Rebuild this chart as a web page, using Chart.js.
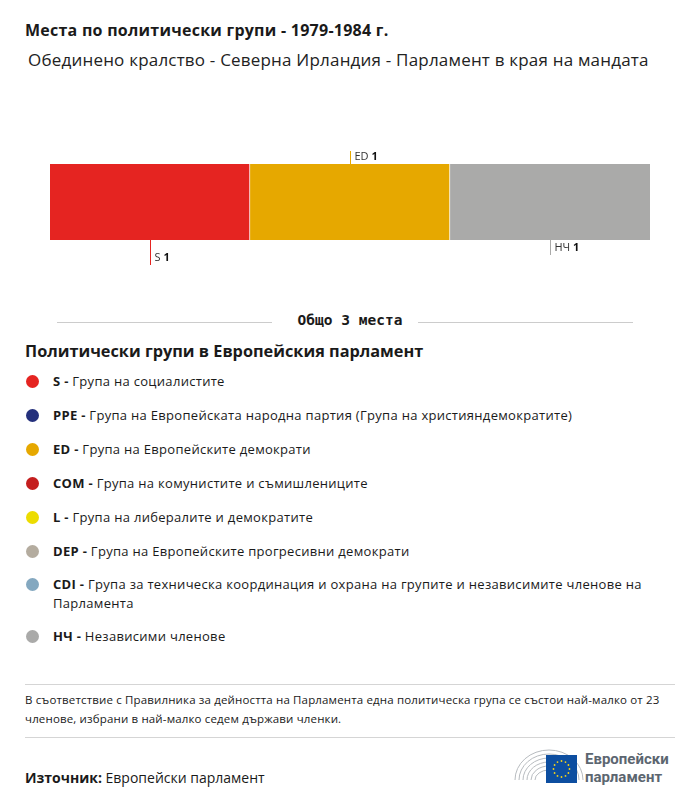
<!DOCTYPE html>
<html lang="bg">
<head>
<meta charset="utf-8">
<script src="https://cdn.jsdelivr.net/npm/chart.js@4.4.1/dist/chart.umd.min.js"></script>
<style>
  html, body { margin: 0; padding: 0; background: #fff; }
  body { width: 700px; height: 804px; position: relative; font-family: 'Open Sans', Roboto, sans-serif; color: #1a1a1a; overflow: hidden; }
  .abs { position: absolute; white-space: nowrap; }
  #title { left: 25px; top: 19px; font-size: 16px; font-weight: 700; letter-spacing: 0.25px; }
  #subtitle { left: 28px; top: 48px; font-size: 17px; font-weight: 400; color: #222; letter-spacing: 0.2px; }
  #chartBox { left: 0; top: 140px; width: 700px; height: 140px; }
  #total { left: 0; top: 311px; width: 700px; height: 20px; }
  #total .line { position: absolute; top: 11px; height: 1px; background: #ccc; }
  #total span { position: absolute; left: 0; width: 700px; text-align: center; font-family: 'DejaVu Sans Mono', monospace; font-weight: 700; font-size: 14.5px; top: 1px; }
  #legendTitle { left: 25px; top: 340px; font-size: 16.3px; font-weight: 700; }
  .item { position: absolute; left: 53px; width: 600px; font-size: 13px; line-height: 19px; font-weight: 400; letter-spacing: 0.3px; }
  .item b { font-weight: 700; }
  .dot { position: absolute; left: -27px; top: 3px; width: 13px; height: 13px; border-radius: 50%; }
  .hr { position: absolute; left: 25px; width: 650px; height: 1px; background: #d5d5d5; }
  #note { left: 25px; top: 691px; width: 650px; font-size: 11.5px; line-height: 18.5px; white-space: normal; letter-spacing: 0.15px; }
  #source { left: 25px; top: 768px; font-size: 14px; }
  #source b { font-weight: 700; }
  #logo { left: 512px; top: 742px; }
</style>
</head>
<body>
<div id="title" class="abs">Места по политически групи - 1979-1984 г.</div>
<div id="subtitle" class="abs">Обединено кралство - Северна Ирландия - Парламент в края на мандата</div>

<div id="chartBox" class="abs"><canvas id="seats"></canvas></div>

<div id="total" class="abs">
  <div class="line" style="left:57px;width:215px"></div>
  <div class="line" style="left:418px;width:215px"></div>
  <span id="totalText"></span>
</div>

<div id="legendTitle" class="abs">Политически групи в Европейския парламент</div>
<div id="legend"></div>

<div class="hr" style="top:684px"></div>
<div id="note" class="abs">В съответствие с Правилника за дейността на Парламента една политическа група се състои най-малко от 23 членове, избрани в най-малко седем държави членки.</div>
<div class="hr" style="top:737px"></div>
<div id="source" class="abs"><b>Източник:</b> Европейски парламент</div>

<div id="logo" class="abs">
  <svg width="165" height="46" viewBox="0 0 165 46">
    <g fill="none" stroke="#b8bcc0" stroke-width="1">
      <path d="M3 38 A 34 30 0 0 1 71 38"/>
      <path d="M7 38 A 30 26 0 0 1 67 38"/>
      <path d="M11 38 A 26 22 0 0 1 63 38"/>
      <path d="M15 38 A 22 18 0 0 1 59 38"/>
      <path d="M19 38 A 18 14 0 0 1 55 38"/>
      <path d="M23 38 A 14 10 0 0 1 51 38"/>
    </g>
    <rect x="34" y="13" width="31" height="28" fill="#0d4ea0"/>
    <g fill="#f7d417" id="stars"></g>
    <text x="73" y="22" font-family="Roboto, sans-serif" font-weight="700" font-size="15" fill="#5c6670">Европейски</text>
    <text x="73" y="40" font-family="Roboto, sans-serif" font-weight="700" font-size="15" fill="#5c6670">парламент</text>
  </svg>
</div>

<script>
// --- data ---
const groups = ['S', 'ED', 'НЧ'];
const seats = [1, 1, 1];
const groupColors = ['#e52421', '#e6a800', '#aaaaa9'];

const legendCodes = ['S', 'PPE', 'ED', 'COM', 'L', 'DEP', 'CDI', 'НЧ'];
const legendNames = [
  'Група на социалистите',
  'Група на Европейската народна партия (Група на християндемократите)',
  'Група на Европейските демократи',
  'Група на комунистите и съмишлениците',
  'Група на либералите и демократите',
  'Група на Европейските прогресивни демократи',
  'Група за техническа координация и охрана на групите и независимите членове на Парламента',
  'Независими членове'
];
const legendColors = ['#e52421', '#24307c', '#e6a800', '#c41e1e', '#ecdc00', '#b4ac9f', '#84a8c0', '#aaaaa9'];

// where each bar label sits: side and length of its leader line
const labelPlace = { 'S': ['below', 25], 'ED': ['above', 13], 'НЧ': ['below', 15] };

const total = seats.reduce((a, b) => a + b, 0);
document.getElementById('totalText').textContent = 'Общо ' + total + ' места';

// legend
const legendTops = [372, 406, 440, 474, 508, 542, 575, 627];
const legend = document.getElementById('legend');
legendCodes.forEach((code, i) => {
  const div = document.createElement('div');
  div.className = 'item';
  div.style.top = legendTops[i] + 'px';
  div.innerHTML = '<span class="dot" style="background:' + legendColors[i] + '"></span><b>' + code + ' -</b> ' + legendNames[i];
  legend.appendChild(div);
});

// EU stars
const starsG = document.getElementById('stars');
for (let k = 0; k < 12; k++) {
  const a = k * Math.PI / 6;
  const c = document.createElementNS('http://www.w3.org/2000/svg', 'circle');
  c.setAttribute('cx', 49.5 + 8 * Math.cos(a));
  c.setAttribute('cy', 27 + 8 * Math.sin(a));
  c.setAttribute('r', 0.9);
  starsG.appendChild(c);
}

const barLabels = {
  id: 'barLabels',
  afterDatasetsDraw(chart) {
    const ctx = chart.ctx;
    chart.data.datasets.forEach((ds, i) => {
      const el = chart.getDatasetMeta(i).data[0];
      const cx = Math.round((el.x + el.base) / 2) + 0.5;
      const top = el.y - el.height / 2;
      const bottom = el.y + el.height / 2;
      const [side, len] = labelPlace[ds.label];
      const y0 = side === 'above' ? top - len : bottom;
      const y1 = side === 'above' ? top : bottom + len;
      ctx.save();
      ctx.strokeStyle = ds.backgroundColor;
      ctx.lineWidth = 1;
      ctx.beginPath();
      ctx.moveTo(cx, y0);
      ctx.lineTo(cx, y1);
      ctx.stroke();
      const ty = side === 'above' ? top - 7 : bottom + len - 7;
      ctx.textBaseline = 'middle';
      ctx.fillStyle = '#333';
      ctx.font = '400 11px "Open Sans", sans-serif';
      const name = ds.label + ' ';
      ctx.fillText(name, cx + 4, ty);
      const w = ctx.measureText(name).width;
      ctx.font = '700 11px "Open Sans", sans-serif';
      ctx.fillStyle = '#111';
      ctx.fillText(String(ds.data[0]), cx + 4 + w, ty);
      ctx.restore();
    });
  }
};

new Chart(document.getElementById('seats'), {
  type: 'bar',
  data: {
    labels: [''],
    datasets: groups.map((g, i) => ({
      label: g,
      data: [seats[i]],
      backgroundColor: groupColors[i],
      borderColor: '#ffffff',
      borderWidth: i < groups.length - 1 ? { right: 1, left: 0, top: 0, bottom: 0 } : 0,
      borderSkipped: false,
      barPercentage: 1,
      categoryPercentage: 1
    }))
  },
  options: {
    indexAxis: 'y',
    responsive: true,
    maintainAspectRatio: false,
    animation: false,
    layout: { padding: { left: 50, right: 50, top: 24, bottom: 40 } },
    plugins: { legend: { display: false }, tooltip: { enabled: false } },
    scales: {
      x: { stacked: true, min: 0, max: total, display: false },
      y: { stacked: true, display: false }
    }
  },
  plugins: [barLabels]
});
</script>
</body>
</html>
